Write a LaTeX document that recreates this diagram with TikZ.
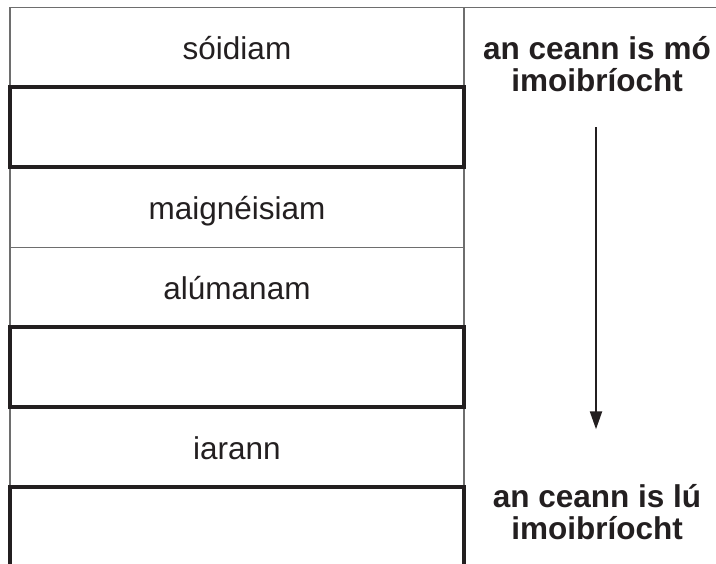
\documentclass[tikz,border=0pt]{standalone}
\usepackage{fontspec}
\setmainfont{Liberation Sans}
\usepackage{tikz}
\usetikzlibrary{arrows.meta,
           positioning}
\definecolor{ink}{RGB}{35,31,32}
\definecolor{rule}{RGB}{110,110,110}

\begin{document}
\begin{tikzpicture}[x=1pt,y=-1pt,
  thinrule/.style={draw=rule,line width=1.4pt},
  gapbox/.style={draw=ink,line width=3.8pt},
  metal/.style={anchor=base,text=ink,font=\fontsize{31.5}{36}\selectfont},
  rank/.style={text=ink,align=center,font=\bfseries\fontsize{31.5}{32.5}\selectfont}]
\useasboundingbox(0,0)rectangle(716,564);
% table frame
\draw[thinrule](716,7.3)--(10,7.3)--(10,564);
\draw[thinrule](464,7.3)--(464,564);
\draw[thinrule](10,247.3)--(464,247.3);
% empty boxes to be filled in
\draw[gapbox](10,87.3)rectangle(464,167.3);
\draw[gapbox](10,327.3)rectangle(464,407.3);
\draw[gapbox](10,580)--(10,487.3)--(464,487.3)--(464,580);
% metals
\foreach \name/\row/\txt in {na/0/sóidiam,mg/2/maignéisiam,al/3/alúmanam,fe/5/iarann}
\node[metal](\name) at (237,59.3+80*\row) {\txt};
% reactivity
\node[rank](most) at (597,64) {an ceann is mó\\imoibríocht};
\node[rank](least) at (597,512) {an ceann is lú\\imoibríocht};
\coordinate (from) at (596,127.3);
\coordinate (to) at (596,429.3);
\draw[ink,line width=2.2pt,-{Triangle[length=18pt,width=12pt]}](from)--(to);
\end{tikzpicture}
\end{document}
